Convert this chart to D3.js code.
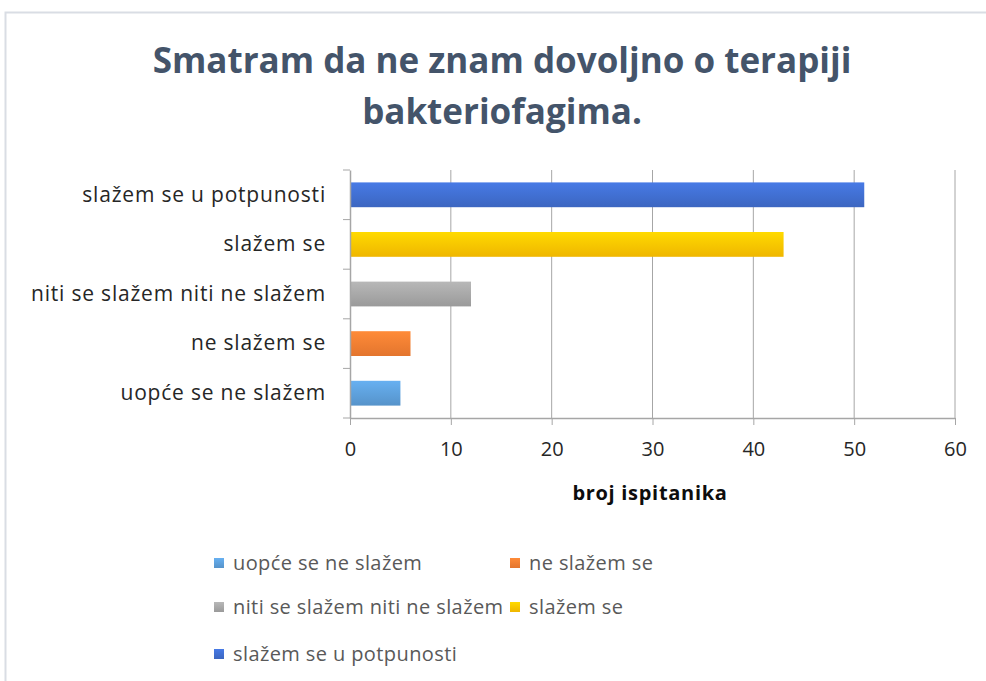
<!DOCTYPE html>
<html>
<head>
<meta charset="utf-8">
<script src="https://cdn.jsdelivr.net/npm/d3@7"></script>
<style>
  body { margin: 0; background: #fff; }
  text { font-family: "Open Sans", sans-serif; }
</style>
</head>
<body>
<script>
const categories = ["slažem se u potpunosti", "slažem se", "niti se slažem niti ne slažem", "ne slažem se", "uopće se ne slažem"];
const counts = [51, 43, 12, 6, 5];
const barColors = ["#3f6ccb", "#fcc000", "#a2a2a2", "#ef7b31", "#5b9bd5"];
const legendOrder = ["uopće se ne slažem", "ne slažem se", "niti se slažem niti ne slažem", "slažem se", "slažem se u potpunosti"];
const xTicks = [0, 10, 20, 30, 40, 50, 60];
const titleLines = ["Smatram da ne znam dovoljno o terapiji", "bakteriofagima."];

const width = 986, height = 681;
const svg = d3.select("body").append("svg")
    .attr("width", width)
    .attr("height", height);

// frame (only top and left edges show)
svg.append("path")
    .attr("d", "M5.5,681 L5.5,12.5 L986,12.5")
    .attr("fill", "none")
    .attr("stroke", "#d9dde4")
    .attr("stroke-width", 2);

// title
svg.append("g").selectAll("text")
    .data(titleLines)
    .join("text")
    .attr("x", 502)
    .attr("y", (d, i) => 73 + i * 51)
    .attr("text-anchor", "middle")
    .style("font-size", "35px")
    .style("font-weight", "bold")
    .style("fill", "#44546a")
    .text(d => d);

const plotTop = 170, plotBottom = 418;
const x = d3.scaleLinear().domain([0, 60]).range([350, 955]);
const y = d3.scaleBand().domain(categories).range([plotTop, plotBottom])
    .paddingInner(0.5).paddingOuter(0.25);

const defs = svg.append("defs");
barColors.forEach((c, i) => {
    const g = defs.append("linearGradient")
        .attr("id", "grad" + i)
        .attr("x1", 0).attr("y1", 0).attr("x2", 0).attr("y2", 1);
    g.append("stop").attr("offset", "0%").attr("stop-color", d3.color(c).brighter(0.35));
    g.append("stop").attr("offset", "100%").attr("stop-color", d3.color(c).darker(0.15));
});

// gridlines
svg.append("g").selectAll("line")
    .data(xTicks.slice(1))
    .join("line")
    .attr("x1", d => x(d)).attr("x2", d => x(d))
    .attr("y1", plotTop).attr("y2", plotBottom)
    .attr("stroke", "#a6a6a6")
    .attr("stroke-width", 1);

// bars
svg.append("g").selectAll("rect")
    .data(categories)
    .join("rect")
    .attr("x", x(0))
    .attr("y", d => y(d))
    .attr("width", (d, i) => x(counts[i]) - x(0))
    .attr("height", y.bandwidth())
    .attr("fill", (d, i) => `url(#grad${i})`);

// x axis
const xAxis = svg.append("g")
    .attr("transform", `translate(0,${plotBottom})`)
    .call(d3.axisBottom(x).tickValues(xTicks).tickSizeInner(7).tickSizeOuter(0).tickPadding(17));
xAxis.select(".domain").attr("stroke", "#a6a6a6").attr("stroke-width", 1.5);
xAxis.selectAll(".tick line").attr("stroke", "#a6a6a6");
xAxis.selectAll(".tick text")
    .style("font-size", "20px")
    .style("font-family", "'Open Sans', sans-serif")
    .style("fill", "#262626");

// y axis
const yAxis = svg.append("g")
    .attr("transform", "translate(350,0)")
    .call(d3.axisLeft(y).tickSize(0).tickPadding(24));
yAxis.select(".domain").attr("stroke", "#a6a6a6").attr("stroke-width", 1.5);
yAxis.selectAll(".tick text")
    .style("font-size", "21px")
    .style("letter-spacing", "0.8px")
    .style("font-family", "'Open Sans', sans-serif")
    .style("fill", "#262626");
// category boundary ticks
svg.append("g").selectAll("line")
    .data(d3.range(categories.length + 1))
    .join("line")
    .attr("x1", 343).attr("x2", 350)
    .attr("y1", i => plotTop + i * (plotBottom - plotTop) / categories.length)
    .attr("y2", i => plotTop + i * (plotBottom - plotTop) / categories.length)
    .attr("stroke", "#a6a6a6");

// axis title
svg.append("text")
    .attr("x", 650)
    .attr("y", 500)
    .attr("text-anchor", "middle")
    .style("font-size", "20px")
    .style("letter-spacing", "0.7px")
    .style("font-weight", "bold")
    .style("fill", "#0d0d0d")
    .text("broj ispitanika");

// legend
const legendPos = [[214, 563], [510, 563], [214, 607], [510, 607], [214, 654]];
const legend = svg.append("g").selectAll("g")
    .data(legendOrder)
    .join("g")
    .attr("transform", (d, i) => `translate(${legendPos[i][0]},${legendPos[i][1]})`);
legend.append("rect")
    .attr("x", 0).attr("y", -5)
    .attr("width", 10).attr("height", 10)
    .attr("fill", d => `url(#grad${categories.indexOf(d)})`);
legend.append("text")
    .attr("x", 19)
    .attr("dy", "0.35em")
    .style("font-size", "20px")
    .style("letter-spacing", "0.4px")
    .style("fill", "#595959")
    .text(d => d);
</script>
</body>
</html>
